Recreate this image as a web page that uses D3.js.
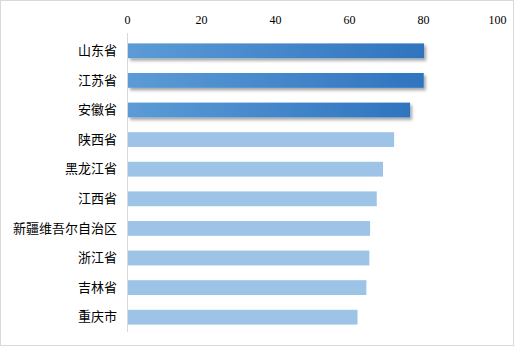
<!DOCTYPE html>
<html>
<head>
<meta charset="utf-8">
<script src="https://cdn.jsdelivr.net/npm/d3@7"></script>
<style>
  body { margin: 0; background: #fff; }
  text { font-family: "Noto Sans CJK SC", sans-serif; }
</style>
</head>
<body>
<div id="container"></div>
<script>
var provinces = ['山东省', '江苏省', '安徽省', '陕西省', '黑龙江省', '江西省', '新疆维吾尔自治区', '浙江省', '吉林省', '重庆市'];
var values = [80.3, 80.2, 76.5, 72.2, 69.2, 67.5, 65.7, 65.5, 64.7, 62.3];
var highlighted = [true, true, true, false, false, false, false, false, false, false];
var tickValues = [0, 20, 40, 60, 80, 100];

var width = 515;
var height = 347;
var margin = { left: 127, right: 18, top: 36, bottom: 15 };

var svg = d3.select('#container').append('svg')
    .attr('width', width)
    .attr('height', height);

var defs = svg.append('defs');
var grad = defs.append('linearGradient')
    .attr('id', 'darkBar')
    .attr('x1', '0%').attr('x2', '100%').attr('y1', '0%').attr('y2', '0%');
grad.append('stop').attr('offset', '0%').attr('stop-color', '#5c9bd6');
grad.append('stop').attr('offset', '100%').attr('stop-color', '#2f74bf');

var shadow = defs.append('filter').attr('id', 'shadow')
    .attr('x', '-5%').attr('y', '-30%').attr('width', '115%').attr('height', '180%');
shadow.append('feDropShadow')
    .attr('dx', 2).attr('dy', 2.5).attr('stdDeviation', 1.5)
    .attr('flood-color', '#000').attr('flood-opacity', 0.35);

// outer border
svg.append('rect')
    .attr('x', 0.5).attr('y', 0.5)
    .attr('width', width - 2).attr('height', height - 2)
    .attr('fill', 'none')
    .attr('stroke', '#d9d9d9');

var x = d3.scaleLinear()
    .domain([0, 100])
    .range([margin.left, width - margin.right]);

var y = d3.scaleBand()
    .domain(provinces)
    .range([margin.top, height - margin.bottom])
    .paddingInner(0.5)
    .paddingOuter(0.25);

// top axis labels
var xAxis = svg.append('g')
    .attr('transform', 'translate(0,' + 24 + ')')
    .call(d3.axisTop(x).tickValues(tickValues).tickSize(0).tickPadding(0));
xAxis.select('.domain').remove();
xAxis.selectAll('text')
    .attr('font-size', 12)
    .attr('fill', '#000')
    .style('font-family', '"Liberation Serif", serif');

// category axis line
svg.append('line')
    .attr('x1', x(0) + 0.5).attr('x2', x(0) + 0.5)
    .attr('y1', margin.top - 3).attr('y2', height - margin.bottom)
    .attr('stroke', '#d9d9d9');

var yAxis = svg.append('g')
    .attr('transform', 'translate(' + (x(0) - 10) + ',0)')
    .call(d3.axisLeft(y).tickSize(0).tickPadding(0));
yAxis.select('.domain').remove();
yAxis.selectAll('text')
    .attr('font-size', 13)
    .attr('fill', '#000')
    .style('font-family', '"Noto Sans CJK SC", sans-serif');

var rows = provinces.map(function (p, i) {
    return { name: p, value: values[i], dark: highlighted[i] };
});

svg.append('g').selectAll('rect')
    .data(rows)
    .enter().append('rect')
    .attr('x', x(0) + 1)
    .attr('y', function (d) { return y(d.name); })
    .attr('width', function (d) { return x(d.value) - x(0) - 1; })
    .attr('height', y.bandwidth())
    .attr('fill', function (d) { return d.dark ? 'url(#darkBar)' : '#9dc3e6'; })
    .attr('filter', function (d) { return d.dark ? 'url(#shadow)' : null; });
</script>
</body>
</html>
